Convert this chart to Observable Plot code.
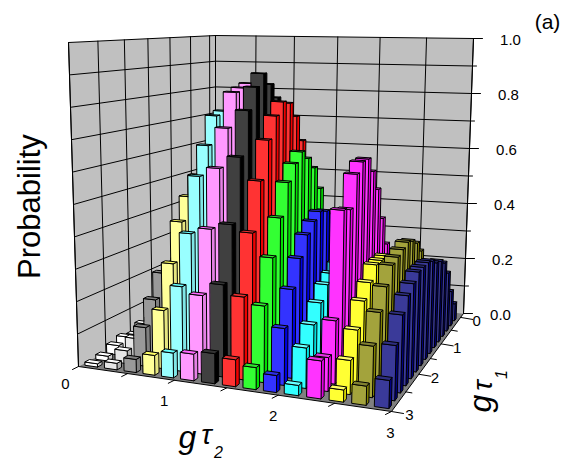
<!DOCTYPE html>
<html><head><meta charset="utf-8">
<style>html,body{margin:0;padding:0;background:#fff}svg{display:block}</style>
<script src="https://cdn.jsdelivr.net/npm/d3@7"></script>
<script src="https://cdn.jsdelivr.net/npm/@observablehq/plot@0.6"></script>
</head><body><div id="c"></div>
<script>
// probability by τ1 bin (index 0 = τ1 0.1 … index 14 = τ1 2.9), one list per τ2 bin
const t01=[.0,.0,.0,.005,.005,.01,.01,.015,.02,.03,.03,.04,.03,.015,.01];
const t03=[.0,.01,.01,.01,.02,.03,.05,.06,.07,.08,.09,.09,.06,.04,.02];
const t05=[.01,.02,.04,.07,.11,.15,.2,.24,.27,.28,.27,.26,.19,.12,.04];
const t07=[.02,.05,.1,.16,.25,.33,.42,.49,.54,.56,.5,.43,.31,.18,.06];
const t09=[.03,.08,.15,.25,.35,.47,.6,.7,.77,.76,.67,.58,.41,.26,.075];
const t11=[.03,.1,.2,.33,.47,.6,.75,.86,.85,.84,.73,.61,.43,.24,.08];
const t13=[.04,.1,.2,.35,.5,.67,.81,.86,.9,.86,.79,.65,.45,.28,.09];
const t15=[.04,.1,.2,.34,.48,.66,.75,.8,.81,.77,.7,.58,.43,.25,.08];
const t17=[.03,.09,.18,.29,.4,.5,.58,.62,.65,.62,.57,.47,.36,.23,.065];
const t19=[.02,.07,.14,.22,.3,.38,.43,.45,.46,.44,.41,.35,.27,.17,.05];
const t21=[.02,.05,.1,.16,.2,.24,.28,.3,.3,.28,.26,.22,.17,.12,.03];
const t23=[.03,.1,.2,.3,.4,.51,.58,.63,.63,.6,.5,.51,.19,.1,.11];
const t25=[.02,.05,.09,.14,.2,.25,.29,.32,.32,.32,.28,.24,.17,.1,.035];
const t27=[.02,.06,.11,.18,.3,.34,.36,.37,.36,.35,.34,.29,.23,.15,.055];
const t29=[.06,.12,.2,.25,.27,.28,.3,.31,.31,.31,.29,.27,.23,.16,.08];
const columns=[t01,t03,t05,t07,t09,t11,t13,t15,t17,t19,t21,t23,t25,t27,t29];
const frontColors=["#ffffff","#e6e6e6","#999999","#ffff99","#99ffff","#ff99ff","#404040","#ff3333","#33ff33","#3333ff","#33ffff","#ff33ff","#ffff33","#a3a33c","#3a3a99"];
const sideColors =["#cccccc","#b3b3b3","#808080","#e6e680","#80e6e6","#e680e6","#000000","#ee0000","#00e000","#0000e0","#00e0e0","#e000e0","#e0e000","#808000","#000080"];
const topColors  =["#ffffff","#ffffff","#808080","#ffff66","#66ffff","#ff66ff","#333333","#e62e2e","#2ee62e","#2e2ee6","#66ffff","#e62ee6","#ffff66","#808030","#2e2e80"];
const barW=0.125, barD=0.085;
const zMajor=[0,.2,.4,.6,.8,1];
const zMinor=[.1,.3,.5,.7,.9];
const t2Ticks=[0,.5,1,1.5,2,2.5,3];
const t1Ticks=[0,.5,1,1.5,2,2.5,3];
// positions of the τ ticks along the frame (fractions of the edges)
const uAt=[0,.157,.306,.474,.638,.818,1];
const vAt=[.04,.17,.31,.46,.62,.80,1];
const uScale=d3.scaleLinear(t2Ticks,uAt);
const vScale=d3.scaleLinear(t1Ticks,vAt);

const floorC={A:[78,366],B:[215,292],C:[463,313],D:[391,411]};
const ceilC ={A:[68,42],B:[215,35],C:[473,38],D:[400,57]};
function bil(q,u,v){return [0,1].map(k=>(1-u)*(1-v)*q.B[k]+u*(1-v)*q.C[k]+u*v*q.D[k]+(1-u)*v*q.A[k]);}
const t1Min=-0.154;
function proj(t2,t1,z){
  const u=uScale(t2),v=t1<0?0:vScale(t1);
  const p=bil(floorC,u,v),q=bil(ceilC,u,v);
  return [p[0]+(q[0]-p[0])*z,p[1]+(q[1]-p[1])*z];
}
const polys=[];let pid=0;
function poly(pts,fill){const id=pid++;for(const p of pts){const[x,y]=proj(...p);polys.push({x,y,id,fill});}}
poly([[0,t1Min,0],[0,3,0],[0,3,1],[0,t1Min,1]],"#c0c0c0");
poly([[0,t1Min,0],[3,t1Min,0],[3,t1Min,1],[0,t1Min,1]],"#c0c0c0");
poly([[0,t1Min,0],[3,t1Min,0],[3,3,0],[0,3,0]],"#808080");
const grid=[];let lid=0;
function gline(pts,major){const id=lid++;for(const p of pts){const[x,y]=proj(...p);grid.push({x,y,id,major});}}
for(const z of [...zMajor,...zMinor]){if(z>0&&z<1)gline([[0,3,z],[0,t1Min,z],[3,t1Min,z]],false);}
for(const t of t1Ticks){gline([[0,t,0],[0,t,1]],Number.isInteger(t));}
for(const t of t2Ticks){gline([[t,t1Min,0],[t,t1Min,1]],Number.isInteger(t));}
gline([[0,t1Min,0],[0,t1Min,1]],true);
gline([[0,3,0],[0,3,1],[0,t1Min,1],[3,t1Min,1],[3,t1Min,0]],true);
gline([[0,3,0],[3,3,0],[3,t1Min,0]],true);

const cells=[];
columns.forEach((col,j)=>col.forEach((v,i)=>cells.push({j,i,v})));
cells.sort((a,b)=>(a.i+a.j)-(b.i+b.j));
const bars=[];let bid=0;
function bpoly(pts,fill){const id=bid++;for(const p of pts){const[x,y]=proj(...p);bars.push({x,y,id,fill});}}
for(const {i,j,v} of cells){
  const cx=.1+.2*j,cy=.1+.2*i;
  const x0=cx-barW/2,x1=cx+barW/2,y0=cy-barD/2,y1=cy+barD/2;
  bpoly([[x1,y1,0],[x1,y0,0],[x1,y0,v],[x1,y1,v]],sideColors[j]);
  bpoly([[x0,y1,0],[x1,y1,0],[x1,y1,v],[x0,y1,v]],frontColors[j]);
  bpoly([[x0,y0,v],[x1,y0,v],[x1,y1,v],[x0,y1,v]],topColors[j]);
}
const ticks=[];let tid=0;
function tick(a,dx,dy){const id=tid++;ticks.push({x:a[0],y:a[1],id},{x:a[0]+dx,y:a[1]+dy,id});}
for(const t of t2Ticks){tick(proj(t,3,0),-6,3);}
for(const t of t1Ticks){tick(proj(3,t,0),Number.isInteger(t)?12:6,Number.isInteger(t)?2:1);}
for(const z of zMajor){tick(proj(3,t1Min,z),9,0);}
for(const z of zMinor){tick(proj(3,t1Min,z),4,0);}
const labs=[
  ...[0,1,2,3].map((t,k)=>{const p=proj(t,3,0);return {x:p[0]+[-13,-10,-5,-1][k],y:p[1]+[18,21,21,22][k],s:String(t),a:"middle"};}),
  ...[0,1,2,3].map((t,k)=>{const p=proj(3,t,0);return {x:p[0]+[16,16,16,18][k],y:p[1]+4,s:String(t),a:"start"};}),
  ...zMajor.map(z=>{const p=proj(3,t1Min,z);return {x:p[0]+28+9,y:p[1]+2,s:z.toFixed(1),a:"start"};})
];
const font="Liberation Sans, Arial, sans-serif";
const chart=Plot.plot({
  width:565,height:463,margin:0,
  x:{domain:[0,565],range:[0,565],axis:null},
  y:{domain:[0,463],range:[0,463],axis:null},
  marks:[
    Plot.line(polys,{x:"x",y:"y",z:"id",fill:"fill",stroke:"none",curve:"linear-closed"}),
    Plot.line(grid,{x:"x",y:"y",z:"id",stroke:"#000",strokeWidth:1,strokeDasharray:d=>d.major?null:"2,1",curve:"linear"}),
    Plot.line(bars,{x:"x",y:"y",z:"id",fill:"fill",stroke:"#000",strokeWidth:1,curve:"linear-closed",strokeLinejoin:"round"}),
    Plot.line(ticks,{x:"x",y:"y",z:"id",stroke:"#000",strokeWidth:1}),
    Plot.text(labs,{x:"x",y:"y",text:"s",textAnchor:"a",fontSize:15,fontFamily:font,fill:"#000"}),
    Plot.text(["Probability"],{x:[30],y:[206],rotate:-90,fontSize:31,fontFamily:font,fill:"#000"}),
    Plot.text(["(a)"],{x:[547],y:[22],fontSize:21,fontFamily:font,fill:"#000"}),
    Plot.text(["g"],{x:[187],y:[437],fontSize:32,fontStyle:"italic",fontFamily:font,fill:"#000"}),
    Plot.text(["τ"],{x:[206],y:[435],fontSize:28,fontStyle:"italic",fontFamily:font,fill:"#000"}),
    Plot.text(["2"],{x:[218],y:[452],fontSize:16,fontStyle:"italic",fontFamily:font,fill:"#000"}),
    Plot.text(["g"],{x:[480],y:[403],rotate:-90,fontSize:32,fontStyle:"italic",fontFamily:font,fill:"#000"}),
    Plot.text(["τ"],{x:[483],y:[385],rotate:-90,fontSize:28,fontStyle:"italic",fontFamily:font,fill:"#000"}),
    Plot.text(["1"],{x:[501],y:[374],rotate:-90,fontSize:16,fontStyle:"italic",fontFamily:font,fill:"#000"})
  ]
});
document.getElementById("c").append(chart);
</script></body></html>
